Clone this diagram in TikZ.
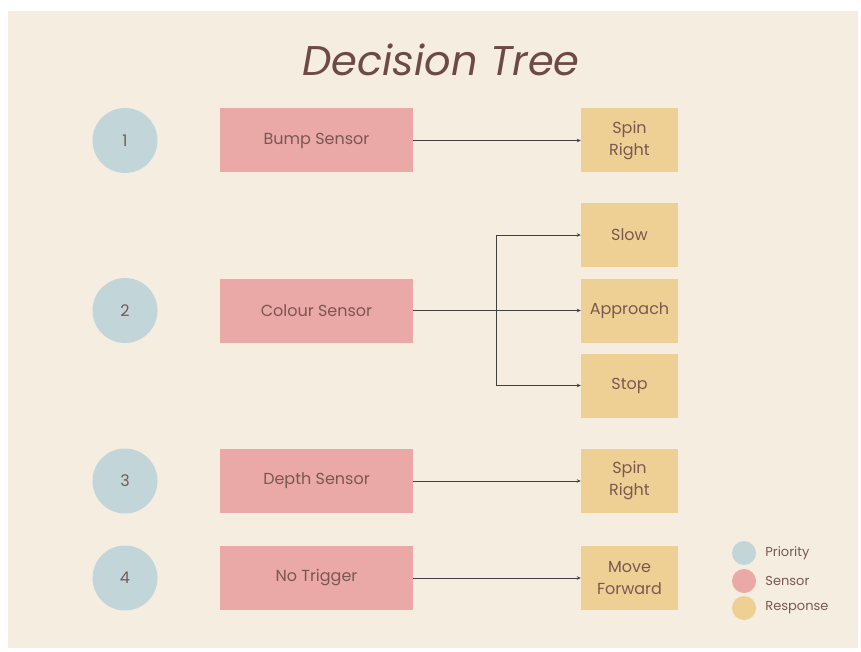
\documentclass[tikz,border=0pt]{standalone}
\usepackage{fontspec}
\setmainfont{Poppins}
\usetikzlibrary{arrows.meta,positioning}
\definecolor{paper}{RGB}{245,237,224}
\definecolor{prioblue}{RGB}{194,214,218}
\definecolor{sensepink}{RGB}{234,168,166}
\definecolor{respyellow}{RGB}{239,208,148}
\definecolor{inkbrown}{RGB}{122,88,82}
\definecolor{titlebrown}{RGB}{110,74,68}

\begin{document}
\begin{tikzpicture}[x=1pt,y=-1pt,
    prio/.style={circle,fill=prioblue,minimum size=65pt,inner sep=0pt,text=inkbrown,font=\fontsize{16}{20}\selectfont},
    sensor/.style={fill=sensepink,minimum width=193pt,minimum height=64pt,inner sep=0pt,text=inkbrown,font=\fontsize{16}{20}\selectfont},
    resp/.style={fill=respyellow,minimum width=97pt,minimum height=64pt,inner sep=0pt,align=center,text=inkbrown,font=\fontsize{16}{22}\selectfont},
    legdot/.style={circle,fill=#1,minimum size=24pt,inner sep=0pt},
    legtext/.style={right=9pt,inner sep=0pt,text=inkbrown,font=\fontsize{13}{15}\selectfont},
    arr/.style={draw=black!75,line width=0.8pt,-{Stealth[length=4pt,width=3.5pt]}}]
  % page and background card
  \useasboundingbox (0,0) rectangle (861,652);
  \fill[white] (0,0) rectangle (861,652);
  \fill[paper] (8,11) rectangle (858,648);
  % title
  \node[text=titlebrown,font=\fontsize{41.5}{48}\selectfont\itshape] (title) at (441,60) {Decision Tree};
  % priorities
  \node[prio] (prio1) at (125,140.5) {1};
  \node[prio] (prio2) at (125,310.5) {2};
  \node[prio] (prio3) at (125,481) {3};
  \node[prio] (prio4) at (125,578) {4};
  % sensors
  \node[sensor] (bump) at (316.5,140.5) {Bump Sensor};
  \node[sensor] (colour) at (316.5,310.5) {Colour Sensor};
  \node[sensor] (depth) at (316.5,481) {Depth Sensor};
  \node[sensor] (notrig) at (316.5,578) {No Trigger};
  % responses
  \node[resp] (spin1) at (629.5,140.5) {Spin\\Right};
  \node[resp] (slow) at (629.5,235) {Slow};
  \node[resp] (approach) at (629.5,310.5) {Approach};
  \node[resp] (stop) at (629.5,385.5) {Stop};
  \node[resp] (spin3) at (629.5,481) {Spin\\Right};
  \node[resp] (move) at (629.5,578) {Move\\Forward};
  % connectors
  \coordinate (fork) at (496,310.5);
  \draw[arr] (bump) -- (spin1);
  \draw[arr] (colour) -- (approach);
  \draw[arr] (fork) |- (slow.west);
  \draw[arr] (fork) |- (stop.west);
  \draw[arr] (depth) -- (spin3);
  \draw[arr] (notrig) -- (move);
  % legend
  \node[legdot=prioblue] (legprio) at (744,553) {};
  \node[legdot=sensepink] (legsens) at (744,581) {};
  \node[legdot=respyellow] (legresp) at (744,608) {};
  \node[legtext] (legpriotxt) at (legprio.east) {Priority};
  \node[legtext] (legsenstxt) at (legsens.east) {Sensor};
  \node[legtext] (legresptxt) at (legresp.east) {Response};
\end{tikzpicture}
\end{document}
